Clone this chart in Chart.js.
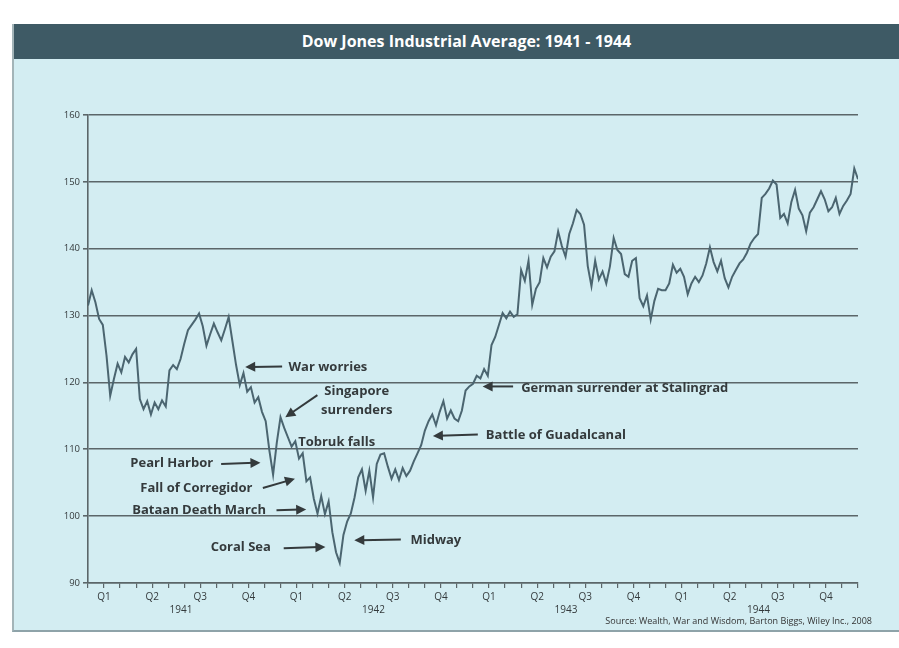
<!DOCTYPE html>
<html>
<head>
<meta charset="utf-8">
<script src="https://cdn.jsdelivr.net/npm/chart.js@4"></script>
<style>
  html, body { margin:0; padding:0; background:#fff; width:899px; height:648px; overflow:hidden; }
  #panel { position:absolute; left:12px; top:24px; width:887px; height:608px; background:#d3edf2;
           border-left:2px solid #a3b4b8; border-bottom:2px solid #8ea3a9; box-sizing:border-box; }
  #titlebar { position:absolute; left:0; top:0; right:0; height:35px; background:#3e5a65; color:#fff;
              font:bold 16px "Open Sans", sans-serif; text-align:center; line-height:35px; padding-left:20px; }
  #wrap { position:absolute; left:0; top:34px; width:885px; height:572px; }
  #source { position:absolute; right:27px; bottom:3px; font:9px "Open Sans", sans-serif; color:#333; }
</style>
</head>
<body>
<div id="panel">
  <div id="titlebar">Dow Jones Industrial Average: 1941 - 1944</div>
  <div id="wrap"><canvas id="dow"></canvas></div>
  <div id="source">Source: Wealth, War and Wisdom, Barton Biggs, Wiley Inc., 2008</div>
</div>
<script>
// weekly closes, one value per week
const djia1941 = [131.5,133.8,132.0,129.5,128.6,124.0,118.0,120.5,122.8,121.5,123.8,123.0,124.2,125.0,
  117.5,116.0,117.2,115.2,117.0,116.0,117.3,116.4,121.8,122.6,122.0,123.5,125.8,127.8,128.6,129.4,130.3,
  128.4,125.5,127.2,128.8,127.5,126.3,128.0,129.8,126.2,122.6,119.6,121.4,118.6,119.3,117.0,117.8,115.6,
  114.2,109.8,106.2,111.0];
const djia1942 = [114.8,113.2,111.8,110.4,111.2,108.6,109.4,105.2,105.8,102.6,100.4,103.0,100.3,102.2,
  97.6,94.6,93.0,97.2,99.2,100.4,102.8,105.8,107.0,103.8,106.8,102.8,107.8,109.2,109.4,107.4,105.6,107.0,
  105.4,107.2,106.0,106.8,108.2,109.4,110.6,112.8,114.2,115.2,113.6,115.6,117.2,114.6,115.8,114.6,114.2,
  115.8,118.8,119.4];
const djia1943 = [119.8,121.0,120.6,122.0,121.0,125.6,126.8,128.6,130.4,129.6,130.6,129.8,130.2,136.8,
  135.2,138.2,131.6,134.0,135.0,138.6,137.2,138.8,139.6,142.6,140.4,138.8,142.2,143.8,145.8,145.2,143.6,
  137.4,134.4,138.2,135.4,136.6,134.8,137.4,141.6,139.8,139.2,136.2,135.8,138.2,138.6,132.6,131.4,133.0,
  129.4,132.2,134.0,133.8];
const djia1944 = [133.8,134.8,137.6,136.4,137.0,135.8,133.2,134.8,135.8,135.0,136.0,137.8,140.2,138.0,
  136.6,138.2,135.6,134.2,135.8,136.8,137.8,138.4,139.4,140.8,141.6,142.2,147.6,148.2,149.0,150.2,149.6,
  144.6,145.2,143.8,147.0,148.8,146.0,145.0,142.6,145.4,146.2,147.4,148.6,147.4,145.6,146.2,147.6,145.2,
  146.4,147.2,148.2,152.0,150.4];

const quarters = ['Q1', 'Q2', 'Q3', 'Q4'];
const years = ['1941', '1942', '1943', '1944'];
const yTicks = [90, 100, 110, 120, 130, 140, 150, 160];

const weekly = [...djia1941, ...djia1942, ...djia1943, ...djia1944];
// x is measured in months from Jan 1941
const points = weekly.map((v, i) => ({ x: i * 12 / 52, y: v }));

const INK = '#343a3c';
const GRID = '#5b6669';

// event labels, placed in data units (months, index level)
const notes = [
  { lines: ['War worries'], at: [12.5, 122.3], align: 'left', from: [12.1, 122.4], to: [9.8, 122.3] },
  { lines: ['Singapore', 'surrenders'], at: [16.75, 118.7], align: 'center', from: [14.3, 118.1], to: [12.3, 114.8] },
  { lines: ['Tobruk falls'], at: [13.1, 111.0], align: 'left' },
  { lines: ['Battle of Guadalcanal'], at: [24.8, 112.1], align: 'left', from: [24.3, 112.2], to: [21.5, 112.0] },
  { lines: ['German surrender at Stalingrad'], at: [27.0, 119.1], align: 'left', from: [26.5, 119.4], to: [24.6, 119.4] },
  { lines: ['Pearl Harbor'], at: [7.8, 107.95], align: 'right', from: [8.3, 107.8], to: [10.75, 108.0] },
  { lines: ['Fall of Corregidor'], at: [10.25, 104.2], align: 'right', from: [10.9, 104.2], to: [12.9, 105.6] },
  { lines: ['Bataan Death March'], at: [11.1, 100.8], align: 'right', from: [11.75, 100.9], to: [13.6, 101.0] },
  { lines: ['Coral Sea'], at: [11.4, 95.3], align: 'right', from: [12.2, 95.2], to: [14.8, 95.4] },
  { lines: ['Midway'], at: [20.1, 96.4], align: 'left', from: [19.5, 96.5], to: [16.6, 96.4] }
];

const notesPlugin = {
  id: 'notes',
  afterDatasetsDraw(chart) {
    const { ctx, scales: { x, y } } = chart;
    ctx.save();
    ctx.fillStyle = INK;
    ctx.strokeStyle = INK;
    ctx.font = 'bold 13px "Open Sans", sans-serif';
    ctx.textBaseline = 'middle';
    notes.forEach(n => {
      ctx.textAlign = n.align;
      const px = x.getPixelForValue(n.at[0]);
      const py = y.getPixelForValue(n.at[1]);
      n.lines.forEach((t, k) => ctx.fillText(t, px, py + k * 19));
      if (n.from) {
        const x1 = x.getPixelForValue(n.from[0]), y1 = y.getPixelForValue(n.from[1]);
        const x2 = x.getPixelForValue(n.to[0]), y2 = y.getPixelForValue(n.to[1]);
        const a = Math.atan2(y2 - y1, x2 - x1);
        ctx.lineWidth = 2;
        ctx.beginPath();
        ctx.moveTo(x1, y1);
        ctx.lineTo(x2 - 6 * Math.cos(a), y2 - 6 * Math.sin(a));
        ctx.stroke();
        ctx.beginPath();
        ctx.moveTo(x2, y2);
        ctx.lineTo(x2 - 10 * Math.cos(a) + 5 * Math.sin(a), y2 - 10 * Math.sin(a) - 5 * Math.cos(a));
        ctx.lineTo(x2 - 10 * Math.cos(a) - 5 * Math.sin(a), y2 - 10 * Math.sin(a) + 5 * Math.cos(a));
        ctx.closePath();
        ctx.fill();
      }
    });
    ctx.restore();
  }
};

new Chart(document.getElementById('dow'), {
  type: 'line',
  data: {
    datasets: [{
      data: points,
      borderColor: '#4b6570',
      borderWidth: 2,
      pointRadius: 0,
      tension: 0
    }]
  },
  options: {
    responsive: true,
    maintainAspectRatio: false,
    animation: false,
    layout: { padding: { top: 57, right: 41, left: 0, bottom: 14 } },
    plugins: { legend: { display: false }, tooltip: { enabled: false } },
    scales: {
      x: {
        type: 'linear', min: 0, max: 48, weight: 0,
        afterBuildTicks: s => { s.ticks = Array.from({ length: 49 }, (_, m) => ({ value: m })); },
        afterFit: s => { s.height = 19; },
        ticks: {
          autoSkip: false, maxRotation: 0, padding: 3, color: INK,
          font: { size: 10, family: '"Open Sans", sans-serif' },
          callback: v => (v % 3 === 1 && v < 48) ? quarters[((v - 1) / 3) % 4] : ''
        },
        grid: { drawOnChartArea: false, tickLength: 5, color: GRID, lineWidth: 1.2 },
        border: { color: GRID, width: 1.6 }
      },
      xYear: {
        type: 'linear', position: 'bottom', min: 0, max: 48, weight: 1,
        afterBuildTicks: s => { s.ticks = years.map((_, k) => ({ value: 5.8 + 12 * k })); },
        afterFit: s => { s.height = 14; },
        ticks: {
          autoSkip: false, maxRotation: 0, padding: 2, color: INK,
          font: { size: 10, family: '"Open Sans", sans-serif' },
          callback: v => years[Math.round((v - 5.8) / 12)]
        },
        grid: { display: false, drawTicks: false },
        border: { display: false }
      },
      y: {
        min: 90, max: 160,
        afterBuildTicks: s => { s.ticks = yTicks.map(v => ({ value: v })); },
        afterFit: s => { s.width = 74; },
        ticks: { padding: 3, color: INK, font: { size: 9.5, family: '"Open Sans", sans-serif' } },
        grid: { color: GRID, lineWidth: 1.6, tickLength: 5 },
        border: { color: GRID, width: 1.6 }
      }
    }
  },
  plugins: [notesPlugin]
});
</script>
</body>
</html>
